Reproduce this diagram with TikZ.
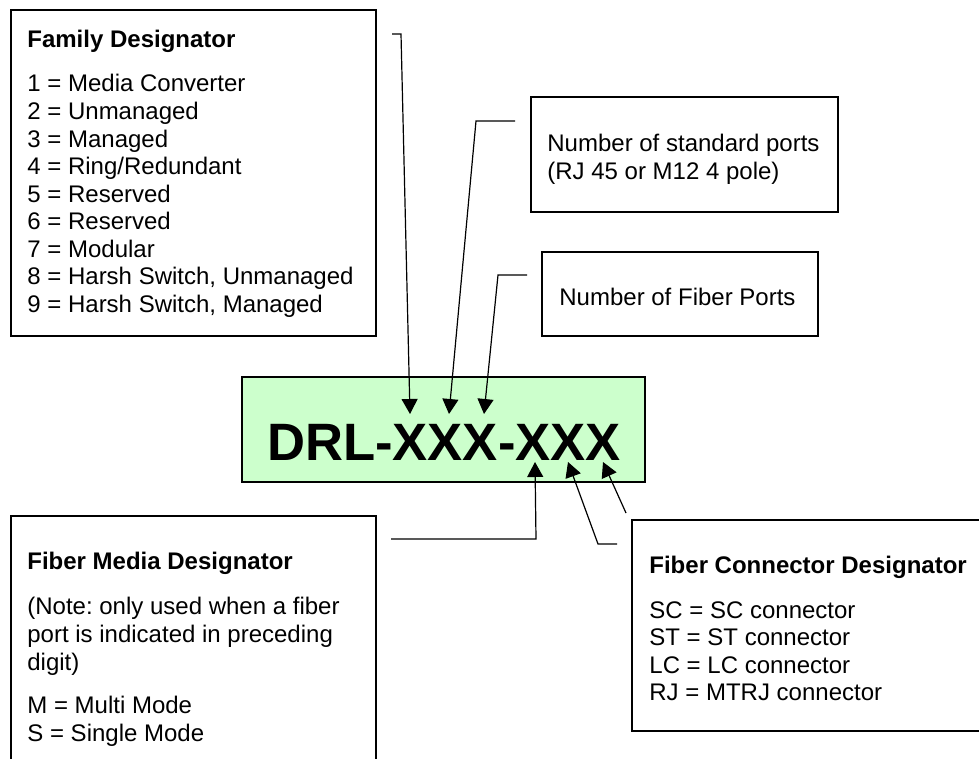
\documentclass[tikz,border=0pt]{standalone}
\usepackage{fontspec}
\setmainfont{Liberation Sans}
\frenchspacing
\usetikzlibrary{arrows.meta}
\definecolor{drlgreen}{HTML}{CCFFCC}
\tikzset{
  lbl/.style={anchor=base west, inner sep=0pt, font=\fontsize{12}{13.8}\selectfont},
  ttl/.style={lbl, font=\fontsize{12}{13.8}\selectfont\bfseries},
  box/.style={line width=0.7pt},
  lead/.style={line width=0.6pt, -{Triangle[width=8pt,length=7.5pt]}},
}
\begin{document}
\begin{tikzpicture}[x=0.5pt,y=-0.5pt]
\useasboundingbox (0,0) rectangle (979,759);
\clip (0,0) rectangle (979,759);
% boxes
\draw[box] (11,10) rectangle (376,336);
\draw[box] (531,97) rectangle (838,212);
\draw[box] (542,252) rectangle (818,336);
\draw[box] (11,516) rectangle (376,780);
\draw[box] (632,520) rectangle (1000,731);
\draw[box, fill=drlgreen] (242,377) rectangle (645,482);
% part number
\node[font=\fontsize{26.3}{30}\selectfont\bfseries, anchor=base, inner sep=0pt] (drl) at (444,460) {DRL-XXX-XXX};
% family designator
\node[ttl] (famtitle) at (27,48) {Family Designator};
\foreach \i/\t in {1/Media Converter, 2/Unmanaged, 3/Managed, 4/Ring\slash Redundant,
                   5/Reserved, 6/Reserved, 7/Modular, 8/{Harsh Switch, Unmanaged},
                   9/{Harsh Switch, Managed}}
  \node[lbl] (fam\i) at (27,{92+27.56*(\i-1)}) {\i{} = \t};
% port boxes
\node[lbl] (std1) at (547,152) {Number of standard ports};
\node[lbl] (std2) at (547,180) {(RJ 45 or M12 4 pole)};
\node[lbl] (fib1) at (559,305) {Number of Fiber Ports};
% fiber media designator
\node[ttl] (medtitle) at (27,569) {Fiber Media Designator};
\node[lbl] (note1) at (27,614) {(Note: only used when a fiber};
\node[lbl] (note2) at (27,642) {port is indicated in preceding};
\node[lbl] (note3) at (27,670) {digit)};
\node[lbl] (medm) at (27,713) {M = Multi Mode};
\node[lbl] (meds) at (27,741) {S = Single Mode};
% fiber connector designator
\node[ttl] (contitle) at (649,573) {Fiber Connector Designator};
\foreach \k/\t [count=\n from 0] in {SC/SC connector, ST/ST connector, LC/LC connector, RJ/MTRJ connector}
  \node[lbl] (con\k) at (649,{618+27.6*\n}) {\k{} = \t};
% leader points
\coordinate (t1) at (410,414);
\coordinate (t2) at (449,414);
\coordinate (t3) at (484,414);
\coordinate (b1) at (535,462);
\coordinate (b2) at (568,462);
\coordinate (b3) at (603,462);
\coordinate (s1) at (392,34);
\coordinate (c1) at (401,34);
\coordinate (s2) at (515,121);
\coordinate (c2) at (476,121);
\coordinate (s3) at (527,275);
\coordinate (c3) at (498,275);
\coordinate (s4) at (391,539);
\coordinate (c4) at (536,539);
\coordinate (s5) at (617,544);
\coordinate (c5) at (598,544);
\coordinate (s6) at (626,513);
% leaders
\draw[lead] (s1) -- (c1) -- (t1);
\draw[lead] (s2) -- (c2) -- (t2);
\draw[lead] (s3) -- (c3) -- (t3);
\draw[lead] (s4) -- (c4) -- (b1);
\draw[lead] (s5) -- (c5) -- (b2);
\draw[lead] (s6) -- (b3);
\end{tikzpicture}
\end{document}
